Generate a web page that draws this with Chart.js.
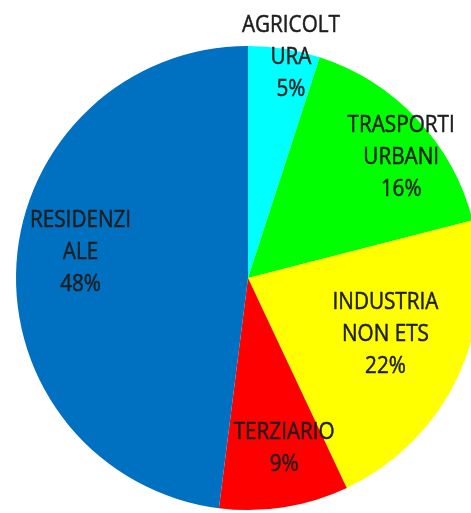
<!DOCTYPE html>
<html>
<head>
<meta charset="utf-8">
<script src="https://cdn.jsdelivr.net/npm/chart.js@4.4.0/dist/chart.umd.min.js"></script>
<style>
  html, body { margin: 0; padding: 0; background: #fff; overflow: hidden; }
  #wrap { width: 496px; height: 513px; }
</style>
</head>
<body>
<div id="wrap"><canvas id="myChart" width="496" height="513"></canvas></div>
<script>
const settori = [['AGRICOLT', 'URA'], ['TRASPORTI', 'URBANI'], ['INDUSTRIA', 'NON ETS'], ['TERZIARIO'], ['RESIDENZI', 'ALE']];
const quote = [5, 16, 22, 9, 48];
const colori = ['#00FFFF', '#00FF00', '#FFFF00', '#FF0000', '#0070C0'];

// how far out each label sits (fraction of radius), excel "best fit" look
const labelRadius = [0.97, 0.84, 0.64, 0.75, 0.73];
const labelShift = [2, 5, -3, -3, 5];

const etichette = {
  id: 'etichette',
  afterDatasetsDraw(chart) {
    const ctx = chart.ctx;
    const meta = chart.getDatasetMeta(0);
    ctx.save();
    ctx.font = '23px "Open Sans", sans-serif';
    ctx.fillStyle = '#1e1e1e';
    ctx.strokeStyle = '#1e1e1e';
    ctx.lineWidth = 0.5;
    ctx.textAlign = 'center';
    ctx.textBaseline = 'middle';
    meta.data.forEach((arc, i) => {
      const p = arc.getProps(['x', 'y', 'startAngle', 'endAngle', 'outerRadius']);
      const mid = (p.startAngle + p.endAngle) / 2 + labelShift[i] * Math.PI / 180;
      const r = p.outerRadius * labelRadius[i];
      const cx = p.x + Math.cos(mid) * r;
      const cy = p.y + Math.sin(mid) * r;
      const lines = settori[i].concat([quote[i] + '%']);
      const lh = 32;
      const top = cy - (lines.length - 1) * lh / 2;
      lines.forEach((t, k) => {
        // squeeze a bit, the original font is narrower (calibri)
        ctx.save();
        ctx.translate(cx, top + k * lh);
        ctx.scale(0.9, 1);
        ctx.fillText(t, 0, 0);
        ctx.strokeText(t, 0, 0);
        ctx.restore();
      });
    });
    ctx.restore();
  }
};

const ctx = document.getElementById('myChart');
new Chart(ctx, {
  type: 'pie',
  data: {
    labels: settori.map(s => s.join('')),
    datasets: [{
      data: quote,
      backgroundColor: colori,
      borderWidth: 0
    }]
  },
  options: {
    responsive: false,
    animation: false,
    layout: { padding: { top: 46, bottom: 3, left: 16, right: 16 } },
    plugins: {
      legend: { display: false },
      tooltip: { enabled: false }
    }
  },
  plugins: [etichette]
});
</script>
</body>
</html>
